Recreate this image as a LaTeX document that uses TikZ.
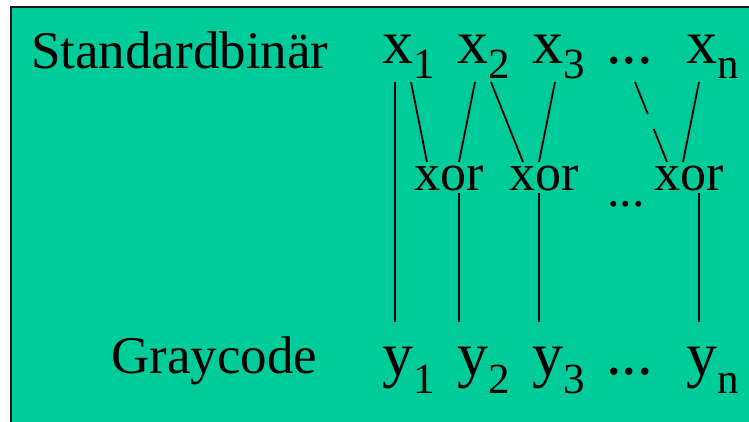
\documentclass[tikz,border=0pt]{standalone}
\usepackage{fontspec}
\setmainfont{Liberation Serif}
\definecolor{GCGreen}{HTML}{00CC99}
\definecolor{GCEdge}{HTML}{1A1A1A}
% lowered index, drop in pt
\newcommand{\idx}[2]{\raisebox{-#1pt}{\fontsize{43}{48}\selectfont #2}}
\tikzset{
  gclabel/.style={anchor=base west,inner sep=0pt,font=\fontsize{53}{60}\selectfont},
  gcvar/.style={anchor=base west,inner sep=0pt,font=\fontsize{62}{70}\selectfont},
  gcxor/.style={anchor=base west,inner sep=0pt,font=\fontsize{52}{60}\selectfont},
  gcwire/.style={draw=black,line width=1.8pt},
  gcpanel/.style={fill=GCGreen,draw=GCEdge,line width=1.2pt}
}

\begin{document}
\begin{tikzpicture}[x=1pt,y=-1pt]
  \path[use as bounding box] (0,0) rectangle (749,421);
  \clip (0,0) rectangle (749,421);
  \path[gcpanel] (11,7) rectangle (770,440);

  % row captions
  \node[gclabel] (std) at (31,68) {Standardbinär};
  \node[gclabel] (gray) at (111,373) {Graycode};

  % inputs
  \node[gcvar] (x1) at (382,63) {x\idx{15}{1}};
  \node[gcvar] (x2) at (457,63) {x\idx{15}{2}};
  \node[gcvar] (x3) at (532,63) {x\idx{15}{3}};
  \node[gcvar] (xdots) at (606,63) {...};
  \node[gcvar] (xn) at (686,63) {x\idx{15}{n}};

  % gates
  \node[gcxor] (xora) at (414,190) {xor};
  \node[gcxor] (xorb) at (509,190) {xor};
  \node[gcxor] (xordots) at (607,206) {\fontsize{50}{56}\selectfont ...};
  \node[gcxor] (xorn) at (654,190) {xor};

  % outputs
  \node[gcvar] (y1) at (382,375) {y\idx{18}{1}};
  \node[gcvar] (y2) at (457,375) {y\idx{18}{2}};
  \node[gcvar] (y3) at (532,375) {y\idx{18}{3}};
  \node[gcvar] (ydots) at (606,374) {...};
  \node[gcvar] (yn) at (686,375) {y\idx{18}{n}};

  % wiring
  \draw[gcwire] ([shift={(13,19)}]x1.base west) -- ([shift={(13,-53)}]y1.base west);
  \draw[gcwire] ([shift={(29,19)}]x1.base west) -- ([shift={(13,-28)}]xora.base west);
  \draw[gcwire] ([shift={(18,19)}]x2.base west) -- ([shift={(45,-28)}]xora.base west);
  \draw[gcwire] ([shift={(34,19)}]x2.base west) -- ([shift={(14,-28)}]xorb.base west);
  \draw[gcwire] ([shift={(23,19)}]x3.base west) -- ([shift={(30,-28)}]xorb.base west);
  \draw[gcwire,dash pattern=on 34.5pt off 16pt on 40pt] ([shift={(29,19)}]xdots.base west) -- ([shift={(13,-28)}]xorn.base west);
  \draw[gcwire] ([shift={(13,19)}]xn.base west) -- ([shift={(29,-28)}]xorn.base west);
  \draw[gcwire] ([shift={(45,3)}]xora.base west) -- ([shift={(2,-53)}]y2.base west);
  \draw[gcwire] ([shift={(30,3)}]xorb.base west) -- ([shift={(7,-53)}]y3.base west);
  \draw[gcwire] ([shift={(45,3)}]xorn.base west) -- ([shift={(13,-53)}]yn.base west);
\end{tikzpicture}
\end{document}
